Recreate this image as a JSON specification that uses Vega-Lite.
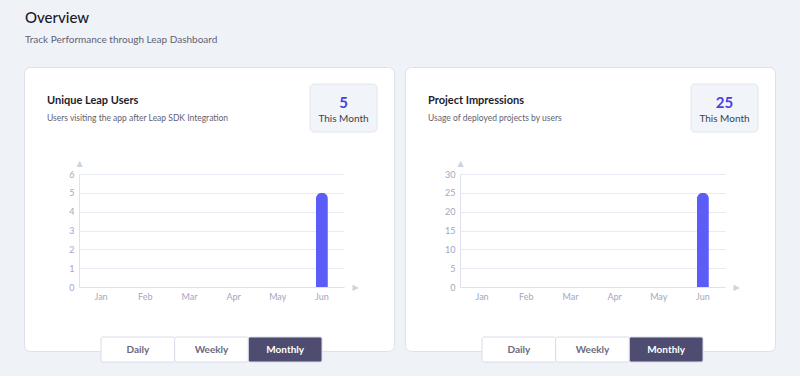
{
  "$schema": "https://vega.github.io/schema/vega-lite/v6.json",
  "background": "#eff2f7",
  "padding": {"left": 23, "right": 25, "top": 10, "bottom": 15},
  "config": {"font": "Lato"},
  "title": {
    "text": "Overview",
    "subtitle": "Track Performance through Leap Dashboard",
    "anchor": "start",
    "frame": "group",
    "offset": 22,
    "dx": 1,
    "fontSize": 15,
    "fontWeight": 500,
    "color": "#1a1a2a",
    "subtitleFontSize": 10,
    "subtitleColor": "#5f6274",
    "subtitlePadding": 9
  },
  "spacing": 9,
  "hconcat": [
    {
      "width": 370,
      "height": 284,
      "view": {"fill": "#ffffff", "stroke": "#dde1ee", "cornerRadius": 6},
      "title": {
        "text": "Unique Leap Users",
        "subtitle": "Users visiting the app after Leap SDK Integration",
        "anchor": "start",
        "frame": "group",
        "dx": 23,
        "offset": -55,
        "fontSize": 11,
        "fontWeight": "bold",
        "color": "#1d1d2b",
        "subtitleFontSize": 8.5,
        "subtitleColor": "#5f6272",
        "subtitlePadding": 8
      },
      "resolve": {"scale": {"x": "independent", "y": "independent"}},
      "layer": [
        {
          "data": {"values": [
            {"month": "Jan", "users": 0},
            {"month": "Feb", "users": 0},
            {"month": "Mar", "users": 0},
            {"month": "Apr", "users": 0},
            {"month": "May", "users": 0},
            {"month": "Jun", "users": 5}
          ]},
          "mark": {"type": "bar", "color": "#5c5cf7", "size": 12, "cornerRadiusTopLeft": 6, "cornerRadiusTopRight": 6},
          "encoding": {
            "x": {"field": "month", "type": "ordinal", "sort": null,
              "scale": {"range": [55, 320], "paddingInner": 0, "paddingOuter": 0},
              "axis": {"title": "▶", "orient": "bottom", "offset": -64, "domainColor": "#dfe2ee", "ticks": false, "labelPadding": 5, "labelAngle": 0, "labelFontSize": 9, "labelColor": "#a4a6c2", "titleFont": "DejaVu Sans", "titleFontSize": 8, "titleFontWeight": "normal", "titleColor": "#cfd2e4", "titleX": 331, "titleY": 0, "titleBaseline": "middle", "titleAlign": "center", "titleAngle": 0, "grid": false}},
            "y": {"field": "users", "type": "quantitative",
              "scale": {"domain": [0, 6], "range": [220, 107], "nice": false},
              "axis": {"title": "▲", "values": [0, 1, 2, 3, 4, 5, 6], "offset": -55, "domainColor": "#dfe2ee", "ticks": false, "labelPadding": 5, "labelFontSize": 9, "labelColor": "#a4a6c2", "grid": true, "gridColor": "#e8ebf3", "titleFont": "DejaVu Sans", "titleFontSize": 8, "titleFontWeight": "normal", "titleColor": "#cfd2e4", "titleX": 0, "titleY": 96, "titleAngle": 0, "titleBaseline": "middle", "titleAlign": "center"}}
          }
        },
        {
          "data": {"values": [{"label": "This Month", "value": 5}]},
          "encoding": {
            "x": {"field": "label", "type": "nominal", "axis": null, "scale": {"range": [286, 353], "paddingInner": 0, "paddingOuter": 0}},
            "y": {"field": "label", "type": "nominal", "axis": null, "scale": {"range": [17, 65], "paddingInner": 0, "paddingOuter": 0}}
          },
          "layer": [
            {"mark": {"type": "rect", "fill": "#f1f4f8", "stroke": "#e2e6ee", "cornerRadius": 4}},
            {"mark": {"type": "text", "fontSize": 15, "fontWeight": "bold", "color": "#4b3fe3", "dy": -5}, "encoding": {"text": {"field": "value", "type": "quantitative"}}},
            {"mark": {"type": "text", "fontSize": 10, "color": "#3d3f4d", "dy": 11}, "encoding": {"text": {"field": "label", "type": "nominal"}}}
          ]
        },
        {
          "data": {"values": [
            {"period": "Daily", "active": false},
            {"period": "Weekly", "active": false},
            {"period": "Monthly", "active": true}
          ]},
          "encoding": {
            "x": {"field": "period", "type": "nominal", "sort": null, "axis": null, "scale": {"range": [77, 298], "paddingInner": 0, "paddingOuter": 0}},
            "y": {"field": "active", "type": "nominal", "axis": null, "scale": {"domain": [true], "range": [270, 295], "paddingInner": 0, "paddingOuter": 0}}
          },
          "layer": [
            {"mark": {"type": "rect", "stroke": "#d9dce8", "strokeWidth": 1, "cornerRadius": 2, "clip": false},
             "encoding": {"y": {"datum": true}, "fill": {"condition": {"test": "datum.active", "value": "#4e4c70"}, "value": "#ffffff"}}},
            {"mark": {"type": "text", "fontWeight": "bold", "fontSize": 10},
             "encoding": {"y": {"datum": true}, "text": {"field": "period", "type": "nominal"}, "color": {"condition": {"test": "datum.active", "value": "#ffffff"}, "value": "#6b6b7c"}}}
          ]
        }
      ]
    },
    {
      "width": 370,
      "height": 284,
      "view": {"fill": "#ffffff", "stroke": "#dde1ee", "cornerRadius": 6},
      "title": {
        "text": "Project Impressions",
        "subtitle": "Usage of deployed projects by users",
        "anchor": "start",
        "frame": "group",
        "dx": 23,
        "offset": -55,
        "fontSize": 11,
        "fontWeight": "bold",
        "color": "#1d1d2b",
        "subtitleFontSize": 8.5,
        "subtitleColor": "#5f6272",
        "subtitlePadding": 8
      },
      "resolve": {"scale": {"x": "independent", "y": "independent"}},
      "layer": [
        {
          "data": {"values": [
            {"month": "Jan", "impressions": 0},
            {"month": "Feb", "impressions": 0},
            {"month": "Mar", "impressions": 0},
            {"month": "Apr", "impressions": 0},
            {"month": "May", "impressions": 0},
            {"month": "Jun", "impressions": 25}
          ]},
          "mark": {"type": "bar", "color": "#5c5cf7", "size": 12, "cornerRadiusTopLeft": 6, "cornerRadiusTopRight": 6},
          "encoding": {
            "x": {"field": "month", "type": "ordinal", "sort": null,
              "scale": {"range": [55, 320], "paddingInner": 0, "paddingOuter": 0},
              "axis": {"title": "▶", "orient": "bottom", "offset": -64, "domainColor": "#dfe2ee", "ticks": false, "labelPadding": 5, "labelAngle": 0, "labelFontSize": 9, "labelColor": "#a4a6c2", "titleFont": "DejaVu Sans", "titleFontSize": 8, "titleFontWeight": "normal", "titleColor": "#cfd2e4", "titleX": 331, "titleY": 0, "titleBaseline": "middle", "titleAlign": "center", "titleAngle": 0, "grid": false}},
            "y": {"field": "impressions", "type": "quantitative",
              "scale": {"domain": [0, 30], "range": [220, 107], "nice": false},
              "axis": {"title": "▲", "values": [0, 5, 10, 15, 20, 25, 30], "offset": -55, "domainColor": "#dfe2ee", "ticks": false, "labelPadding": 5, "labelFontSize": 9, "labelColor": "#a4a6c2", "grid": true, "gridColor": "#e8ebf3", "titleFont": "DejaVu Sans", "titleFontSize": 8, "titleFontWeight": "normal", "titleColor": "#cfd2e4", "titleX": 0, "titleY": 96, "titleAngle": 0, "titleBaseline": "middle", "titleAlign": "center"}}
          }
        },
        {
          "data": {"values": [{"label": "This Month", "value": 25}]},
          "encoding": {
            "x": {"field": "label", "type": "nominal", "axis": null, "scale": {"range": [286, 353], "paddingInner": 0, "paddingOuter": 0}},
            "y": {"field": "label", "type": "nominal", "axis": null, "scale": {"range": [17, 65], "paddingInner": 0, "paddingOuter": 0}}
          },
          "layer": [
            {"mark": {"type": "rect", "fill": "#f1f4f8", "stroke": "#e2e6ee", "cornerRadius": 4}},
            {"mark": {"type": "text", "fontSize": 15, "fontWeight": "bold", "color": "#4b3fe3", "dy": -5}, "encoding": {"text": {"field": "value", "type": "quantitative"}}},
            {"mark": {"type": "text", "fontSize": 10, "color": "#3d3f4d", "dy": 11}, "encoding": {"text": {"field": "label", "type": "nominal"}}}
          ]
        },
        {
          "data": {"values": [
            {"period": "Daily", "active": false},
            {"period": "Weekly", "active": false},
            {"period": "Monthly", "active": true}
          ]},
          "encoding": {
            "x": {"field": "period", "type": "nominal", "sort": null, "axis": null, "scale": {"range": [77, 298], "paddingInner": 0, "paddingOuter": 0}},
            "y": {"field": "active", "type": "nominal", "axis": null, "scale": {"domain": [true], "range": [270, 295], "paddingInner": 0, "paddingOuter": 0}}
          },
          "layer": [
            {"mark": {"type": "rect", "stroke": "#d9dce8", "strokeWidth": 1, "cornerRadius": 2, "clip": false},
             "encoding": {"y": {"datum": true}, "fill": {"condition": {"test": "datum.active", "value": "#4e4c70"}, "value": "#ffffff"}}},
            {"mark": {"type": "text", "fontWeight": "bold", "fontSize": 10},
             "encoding": {"y": {"datum": true}, "text": {"field": "period", "type": "nominal"}, "color": {"condition": {"test": "datum.active", "value": "#ffffff"}, "value": "#6b6b7c"}}}
          ]
        }
      ]
    }
  ]
}
